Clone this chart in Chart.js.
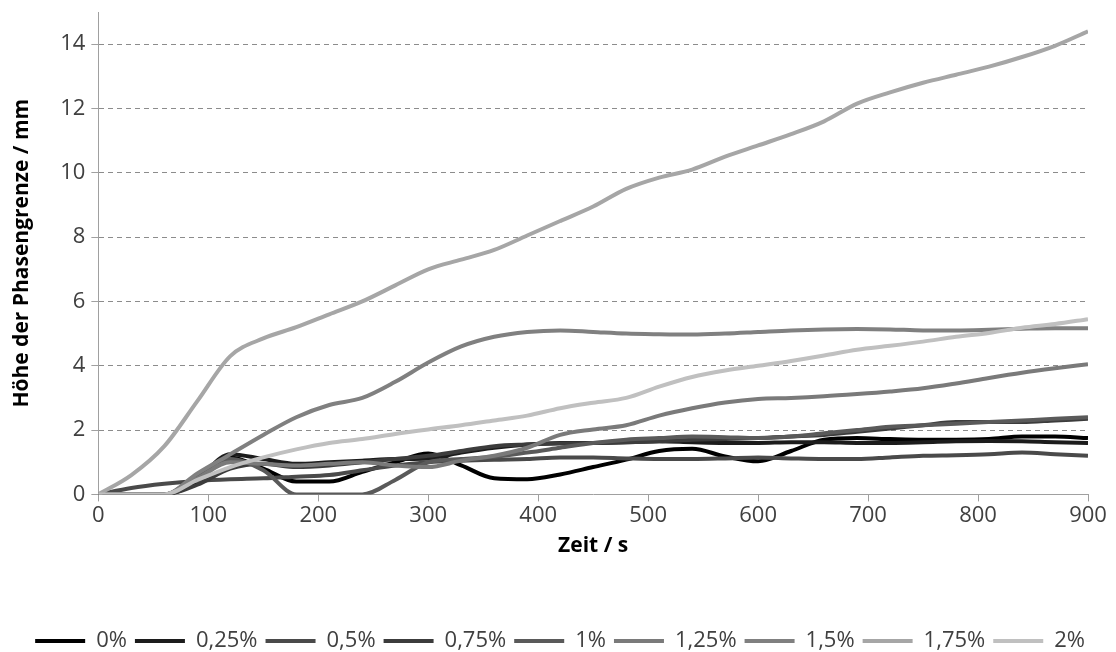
<!DOCTYPE html>
<html>
<head>
<meta charset="utf-8">
<script src="https://cdn.jsdelivr.net/npm/chart.js"></script>
<style>
  html, body { margin: 0; padding: 0; background: #fff; }
  #wrap { width: 1116px; height: 652px; }
</style>
</head>
<body>
<div id="wrap"><canvas id="myChart" width="1116" height="652"></canvas></div>
<script>
const zeit = [0, 30, 60, 90, 120, 150, 180, 210, 240, 270, 300, 330, 360, 390, 420, 450,
  480, 510, 540, 570, 600, 630, 660, 690, 720, 750, 780, 810, 840, 870, 900];

const labels = ['0%', '0,25%', '0,5%', '0,75%', '1%', '1,25%', '1,5%', '1,75%', '2%'];
const colors = ['#000000', '#1c1c1c', '#4a4a4a', '#3c3c3c', '#5a5a5a', '#7a7a7a', '#808080', '#a6a6a6', '#c0c0c0'];

const p0 = [0, 0, 0, 0.4, 1.15, 0.8, 0.4, 0.4, 0.7, 1.0, 1.27, 0.9, 0.5, 0.47, 0.62, 0.85,
  1.08, 1.35, 1.42, 1.18, 1.03, 1.35, 1.7, 1.75, 1.72, 1.7, 1.7, 1.72, 1.8, 1.8, 1.75];
const p025 = [0, 0, 0, 0.5, 1.25, 1.1, 0.95, 1.0, 1.05, 1.1, 1.12, 1.3, 1.45, 1.55, 1.6, 1.6,
  1.62, 1.65, 1.62, 1.6, 1.6, 1.62, 1.62, 1.6, 1.6, 1.62, 1.65, 1.66, 1.65, 1.62, 1.6];
const p05 = [0, 0.2, 0.33, 0.42, 0.47, 0.5, 0.55, 0.6, 0.75, 0.9, 1.0, 1.05, 1.08, 1.1, 1.15, 1.15,
  1.12, 1.1, 1.1, 1.12, 1.15, 1.12, 1.1, 1.1, 1.15, 1.2, 1.22, 1.25, 1.3, 1.25, 1.2];
const p075 = [0, 0, 0, 0.3, 0.8, 0.95, 0.85, 0.9, 1.0, 1.1, 1.2, 1.35, 1.5, 1.55, 1.58, 1.6,
  1.62, 1.65, 1.7, 1.72, 1.75, 1.8, 1.85, 1.95, 2.05, 2.15, 2.25, 2.25, 2.25, 2.3, 2.35];
const p1 = [0, 0, 0, 0.6, 1.1, 0.75, 0, 0, 0, 0.45, 1.0, 1.1, 1.17, 1.3, 1.45, 1.6,
  1.7, 1.75, 1.8, 1.78, 1.75, 1.8, 1.9, 2.0, 2.1, 2.15, 2.2, 2.25, 2.3, 2.35, 2.4];
const p125 = [0, 0, 0, 0.5, 1.0, 0.95, 0.9, 0.95, 1.0, 0.9, 0.85, 1.05, 1.2, 1.45, 1.85, 2.02,
  2.15, 2.45, 2.68, 2.86, 2.97, 3.0, 3.05, 3.12, 3.2, 3.3, 3.45, 3.62, 3.78, 3.92, 4.05];
const p15 = [0, 0, 0, 0.65, 1.25, 1.85, 2.4, 2.78, 3.0, 3.5, 4.1, 4.6, 4.9, 5.05, 5.1, 5.05,
  5.0, 4.98, 4.97, 5.0, 5.05, 5.1, 5.13, 5.14, 5.13, 5.1, 5.1, 5.12, 5.15, 5.17, 5.17];
const p175 = [0, 0.6, 1.5, 2.9, 4.3, 4.85, 5.2, 5.6, 6.0, 6.5, 7.0, 7.3, 7.6, 8.05, 8.5, 8.95,
  9.5, 9.85, 10.1, 10.5, 10.85, 11.2, 11.6, 12.15, 12.5, 12.8, 13.05, 13.3, 13.6, 13.95, 14.4];
const p2 = [0, 0, 0, 0.45, 0.85, 1.15, 1.4, 1.6, 1.72, 1.88, 2.02, 2.15, 2.3, 2.45, 2.68, 2.85,
  3.0, 3.35, 3.65, 3.85, 4.0, 4.15, 4.32, 4.5, 4.62, 4.75, 4.9, 5.02, 5.18, 5.3, 5.45];

const series = [p0, p025, p05, p075, p1, p125, p15, p175, p2];
const yTicks = [0, 2, 4, 6, 8, 10, 12, 14];

const datasets = series.map((vals, i) => ({
  label: labels[i],
  data: vals.map((v, k) => ({ x: zeit[k], y: v })),
  borderColor: colors[i],
  backgroundColor: colors[i],
  borderWidth: 4,
  pointRadius: 0,
  cubicInterpolationMode: 'monotone',
  order: series.length - i
}));

const axisGray = '#a0a0a0';
const font = { family: "'Open Sans', sans-serif", size: 22 };
const boldFont = { family: "'Open Sans', sans-serif", size: 21, weight: 'bold' };

new Chart(document.getElementById('myChart'), {
  type: 'line',
  data: { datasets: datasets },
  options: {
    responsive: false,
    animation: false,
    layout: { padding: { top: 0, right: 23, left: 9, bottom: -10 } },
    plugins: {
      tooltip: { enabled: false },
      legend: {
        position: 'bottom',
        align: 'end',
        labels: {
          usePointStyle: true,
          pointStyle: 'line',
          pointStyleWidth: 50,
          padding: 8,
          color: '#404040',
          font: font,
          sort: (a, b) => a.datasetIndex - b.datasetIndex
        }
      }
    },
    scales: {
      x: {
        type: 'linear',
        min: 0,
        max: 900,
        afterFit: (axis) => { axis.paddingRight = 28; },
        ticks: { stepSize: 100, color: '#404040', font: font, padding: 1, maxRotation: 0 },
        grid: { drawOnChartArea: false, tickLength: 7, tickColor: axisGray, color: axisGray },
        border: { color: axisGray, width: 1 },
        title: {
          display: true,
          text: 'Zeit / s',
          color: '#000',
          font: boldFont,
          padding: { top: 4, bottom: 63 }
        }
      },
      y: {
        min: 0,
        max: 15,
        afterBuildTicks: (axis) => { axis.ticks = yTicks.map(v => ({ value: v })); },
        afterFit: (axis) => { axis.paddingTop = 12; },
        ticks: { color: '#404040', font: font, padding: 6 },
        grid: {
          color: (c) => (c.tick && c.tick.value === 0 ? 'rgba(0,0,0,0)' : '#8c8c8c'),
          tickColor: axisGray,
          tickLength: 7,
          tickBorderDash: []
        },
        border: { color: axisGray, width: 1, dash: [5, 4] },
        title: {
          display: true,
          text: 'Höhe der Phasengrenze / mm',
          color: '#000',
          font: boldFont,
          padding: { top: 0, bottom: 20 }
        }
      }
    }
  }
});
</script>
</body>
</html>
